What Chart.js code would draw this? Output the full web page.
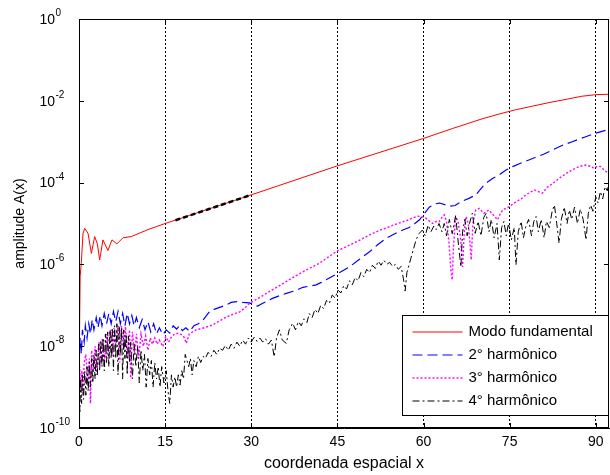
<!DOCTYPE html>
<html>
<head>
<meta charset="utf-8">
<script src="https://cdn.jsdelivr.net/npm/chart.js@4.4.0/dist/chart.umd.min.js"></script>
<style>
  html, body { margin: 0; padding: 0; background: #fff; }
</style>
</head>
<body>
<canvas id="ampChart" width="610" height="475"></canvas>
<script>
// points are [x, log10 A(x)]
const xTicks = [0, 15, 30, 45, 60, 75, 90]
const yTickExp = [-10, -8, -6, -4, -2, 0]

const fundamental = [
  [0, -10], [0.1, -7.6], [0.2, -6.3], [0.4, -5.97], [0.7, -5.24], [1.0, -5.12],
  [1.57, -5.24], [2.16, -5.73], [2.73, -5.32], [3.2, -5.5], [3.6, -5.89], [4.17, -5.4],
  [5.04, -5.66], [5.74, -5.4], [6.6, -5.5], [7.65, -5.35], [9.1, -5.32], [12, -5.15],
  [15, -5.0], [30, -4.3], [45, -3.59], [60, -2.92], [65, -2.68], [70, -2.45],
  [73, -2.33], [76, -2.22], [79, -2.13], [82, -2.04], [85, -1.96], [87.5, -1.89],
  [90, -1.85], [92.3, -1.84]
]

// thick black dashes laid over the fundamental between x~17 and x=30
const fitSegment = [[16.8, -4.92], [30, -4.3]]

const harm2 = [
  [0, -8.4], [0.2, -7.8], [0.4, -8.2], [0.6, -7.6], [0.9, -7.9], [1.1, -7.5], [1.4, -7.8],
  [1.7, -7.45], [2.0, -7.7], [2.3, -7.35], [2.6, -7.6], [3.0, -7.3], [3.3, -7.55], [3.7, -7.25],
  [4.0, -7.5], [4.4, -7.2], [4.8, -7.45], [5.2, -7.2], [5.6, -7.45], [6.0, -7.15], [6.4, -7.4],
  [6.8, -7.15], [7.2, -7.45], [7.6, -7.2], [8.0, -7.5], [8.4, -7.2], [8.8, -7.45], [9.2, -7.25],
  [9.6, -7.5], [10.0, -7.3], [10.5, -7.55], [11.0, -7.35], [11.5, -7.6], [12.0, -7.4], [12.5, -7.65],
  [13.0, -7.45], [13.5, -7.7], [14.0, -7.55], [14.6, -7.72], [15.2, -7.6], [15.8, -7.68], [16.4, -7.5],
  [17.0, -7.58], [17.5, -7.5], [18.0, -7.62], [18.6, -7.55], [19.3, -7.64], [20.0, -7.5], [20.8, -7.45],
  [21.6, -7.36], [22.7, -7.16], [23.5, -7.1], [24.5, -7.05], [25.5, -7.0], [26.5, -6.93], [27.4, -6.91],
  [28.5, -6.93], [29.7, -6.94], [30.5, -7.0], [31.1, -7.02], [32.0, -6.95], [33.0, -6.88], [33.7, -6.83],
  [35.0, -6.76], [36.1, -6.71], [37.5, -6.65], [39.0, -6.56], [40.2, -6.53], [41.3, -6.5], [42.2, -6.44],
  [43.0, -6.38], [44.0, -6.3], [45.1, -6.22], [47.1, -6.06], [48.8, -5.88], [50.6, -5.69], [52.0, -5.52],
  [53.5, -5.36], [55.0, -5.25], [56.4, -5.16], [57.5, -5.1], [58.5, -5.0], [59.3, -4.91], [60.2, -4.75],
  [61.0, -4.6], [62.0, -4.52], [62.8, -4.5], [63.9, -4.55], [64.5, -4.58], [65.5, -4.56], [66.5, -4.47],
  [68.0, -4.38], [69.1, -4.3], [70.3, -4.1], [71.0, -4.0], [72.0, -3.9], [73.2, -3.81], [74.3, -3.7],
  [75.5, -3.61], [77.0, -3.52], [79.0, -3.41], [81.0, -3.3], [82.5, -3.2], [84.0, -3.1], [85.9, -3.0],
  [88.0, -2.89], [90.0, -2.79], [92.3, -2.7]
]

const harm3 = [
  [0, -10], [0.1, -8.5], [0.3, -9.0], [0.5, -8.6], [0.7, -9.2], [0.9, -8.4], [1.2, -8.2], [1.5, -8.9],
  [1.8, -8.3], [2.0, -9.4], [2.2, -8.1], [2.5, -8.6], [2.8, -8.0], [3.1, -8.7], [3.5, -7.9], [3.8, -8.4],
  [4.1, -7.8], [4.4, -8.5], [4.8, -7.7], [5.1, -8.3], [5.5, -7.6], [5.8, -8.2], [6.1, -7.55], [6.4, -8.0],
  [6.8, -7.5], [7.1, -8.4], [7.4, -7.5], [7.8, -8.1], [8.1, -7.52], [8.5, -8.3], [8.8, -7.6], [9.0, -8.78],
  [9.3, -7.65], [9.7, -8.2], [10.0, -7.7], [10.4, -8.3], [10.8, -7.7], [11.2, -8.0], [11.6, -7.75],
  [12.0, -8.1], [12.4, -7.8], [12.8, -7.95], [13.2, -7.8], [13.6, -7.95], [14.0, -7.85], [14.6, -8.01],
  [15.1, -7.77], [15.6, -7.9], [16.2, -7.75], [16.8, -7.69], [17.5, -7.69], [18.2, -7.75], [18.7, -7.93],
  [19.2, -7.7], [20.4, -7.6], [21.8, -7.55], [23.3, -7.48], [24.5, -7.38], [25.6, -7.29], [26.8, -7.22],
  [28.0, -7.16], [29.0, -7.05], [29.7, -6.95], [31.0, -6.85], [32.6, -6.71], [34.4, -6.56], [36.1, -6.42],
  [37.5, -6.3], [39.0, -6.18], [40.5, -6.07], [41.9, -5.97], [43.6, -5.8], [45.1, -5.66], [47.1, -5.53],
  [49.0, -5.4], [50.6, -5.28], [52.3, -5.17], [54.0, -5.08], [55.5, -5.0], [57.0, -4.93], [58.0, -4.87],
  [59.0, -4.82], [59.8, -4.84], [60.4, -4.87], [61.0, -4.94], [61.6, -5.0], [62.2, -4.95], [62.7, -4.96],
  [63.2, -4.85], [63.6, -4.79], [64.0, -4.95], [64.4, -5.4], [64.8, -6.2], [65.0, -6.38], [65.2, -5.6],
  [65.6, -4.83], [66.0, -4.95], [66.4, -5.3], [66.8, -6.06], [67.1, -5.2], [67.4, -4.83], [67.8, -5.0],
  [68.1, -5.5], [68.3, -5.89], [68.6, -5.0], [69.1, -4.67], [69.7, -4.63], [70.5, -4.75], [71.4, -4.67],
  [72.2, -4.8], [72.9, -4.91], [73.4, -4.75], [73.8, -4.67], [74.9, -4.59], [76.1, -4.47], [77.0, -4.4],
  [77.8, -4.3], [79.3, -4.18], [80.0, -4.22], [80.7, -4.26], [81.5, -4.12], [82.5, -4.02], [83.6, -3.9],
  [84.8, -3.78], [86.0, -3.68], [87.1, -3.61], [88.2, -3.57], [89.0, -3.6], [89.7, -3.65], [90.3, -3.6],
  [90.9, -3.61], [91.5, -3.7], [92.3, -3.78]
]

const harm4 = [
  [0, -9.1], [0.15, -9.6], [0.3, -8.8], [0.45, -9.4], [0.6, -8.7], [0.8, -9.3], [1.0, -8.6], [1.2, -9.2],
  [1.4, -8.5], [1.6, -9.1], [1.8, -8.4], [2.0, -9.0], [2.2, -8.3], [2.4, -8.9], [2.6, -8.2], [2.8, -8.8],
  [3.0, -8.1], [3.2, -8.7], [3.4, -7.95], [3.6, -8.6], [3.8, -7.85], [4.0, -8.5], [4.2, -7.8], [4.4, -8.6],
  [4.6, -7.7], [4.8, -8.4], [5.0, -7.65], [5.2, -8.5], [5.4, -7.6], [5.6, -8.3], [5.8, -7.55], [6.0, -8.6],
  [6.2, -7.5], [6.4, -8.3], [6.6, -7.45], [6.8, -8.7], [7.0, -7.5], [7.2, -8.2], [7.4, -7.55], [7.6, -8.8],
  [7.8, -7.6], [8.0, -8.3], [8.2, -7.7], [8.4, -8.7], [8.6, -7.75], [8.8, -8.4], [9.0, -7.9], [9.3, -8.8],
  [9.6, -7.95], [9.9, -8.5], [10.2, -8.0], [10.5, -8.9], [10.8, -8.1], [11.1, -8.6], [11.4, -8.2],
  [11.7, -9.0], [12.0, -8.3], [12.3, -8.7], [12.6, -8.35], [12.9, -9.0], [13.2, -8.4], [13.5, -8.8],
  [13.8, -8.5], [14.1, -9.0], [14.4, -8.5], [14.8, -8.9], [15.2, -8.6], [15.5, -9.1], [15.8, -9.4],
  [16.1, -8.7], [16.4, -9.0], [16.7, -8.75], [17.0, -9.0], [17.3, -8.7], [17.6, -8.95], [17.9, -8.6],
  [18.2, -8.8], [18.5, -8.2], [18.8, -8.35], [19.1, -8.5], [19.4, -8.3], [19.7, -8.7], [20.0, -8.35],
  [20.4, -8.5], [20.8, -8.25], [21.2, -8.4], [21.6, -8.25], [22.0, -8.3], [22.5, -8.15], [23.0, -8.25],
  [23.5, -8.1], [24.0, -8.2], [24.5, -8.05], [25.0, -8.1], [25.5, -7.98], [26.0, -8.1], [26.5, -7.95],
  [27.0, -8.05], [27.5, -7.9], [28.0, -8.0], [28.5, -7.85], [29.0, -7.95], [29.5, -7.8], [30.0, -7.9],
  [30.5, -7.78], [31.0, -7.88], [31.5, -7.8], [32.0, -7.9], [32.5, -7.82], [33.0, -7.95], [33.5, -7.85],
  [34.0, -8.26], [34.4, -7.8], [34.9, -7.6], [35.4, -7.85], [36.1, -7.93], [36.6, -7.6], [37.2, -7.44],
  [37.7, -7.6], [38.2, -7.4], [38.7, -7.5], [39.2, -7.33], [39.7, -7.42], [40.1, -7.2], [40.6, -7.3],
  [41.1, -7.1], [41.6, -7.2], [42.1, -7.0], [42.6, -7.08], [43.1, -6.88], [43.6, -6.95], [44.1, -6.75],
  [44.6, -6.82], [45.1, -6.63], [45.6, -6.7], [46.1, -6.52], [46.6, -6.6], [47.1, -6.4], [47.6, -6.5],
  [48.1, -6.32], [48.6, -6.4], [49.1, -6.2], [49.6, -6.3], [50.1, -6.12], [50.6, -6.2], [51.1, -6.02],
  [51.6, -6.1], [52.1, -5.92], [52.6, -6.02], [53.1, -5.9], [53.6, -6.0], [54.1, -5.95], [54.6, -6.05],
  [55.1, -6.0], [55.6, -6.12], [56.1, -6.05], [56.5, -6.35], [56.8, -6.65], [57.1, -6.2], [57.5, -6.0],
  [57.8, -5.85], [58.2, -5.65], [58.7, -5.4], [59.2, -5.25], [59.8, -5.16], [60.3, -5.3], [60.8, -5.04],
  [61.3, -5.2], [61.8, -5.06], [62.2, -5.15], [62.7, -5.0], [63.2, -5.2], [63.6, -5.0], [64.0, -5.3],
  [64.5, -4.9], [65.0, -5.25], [65.6, -4.8], [66.0, -5.4], [66.5, -6.06], [66.8, -5.2], [67.2, -4.9],
  [67.6, -5.3], [68.0, -5.0], [68.5, -4.75], [69.0, -5.24], [69.5, -4.95], [70.0, -5.3], [70.5, -4.85],
  [70.9, -4.75], [71.4, -5.2], [71.8, -4.9], [72.3, -5.35], [72.8, -5.0], [73.2, -5.89], [73.6, -5.1],
  [74.0, -4.95], [74.4, -5.3], [74.8, -5.0], [75.3, -5.4], [75.8, -5.1], [76.1, -6.01], [76.5, -5.2],
  [77.0, -4.95], [77.4, -5.35], [77.8, -5.08], [78.3, -4.9], [78.8, -5.3], [79.2, -4.95], [79.6, -4.83],
  [80.0, -5.2], [80.5, -4.9], [81.0, -5.35], [81.4, -4.95], [81.9, -5.1], [82.4, -4.7], [82.8, -4.55],
  [83.2, -5.0], [83.6, -5.48], [84.0, -4.9], [84.5, -4.6], [85.0, -5.0], [85.4, -4.67], [85.8, -4.9],
  [86.3, -4.6], [86.8, -5.0], [87.3, -4.65], [87.8, -4.9], [88.3, -5.4], [88.7, -4.75], [89.1, -4.55],
  [89.5, -4.7], [90.0, -4.35], [90.4, -4.5], [90.8, -4.22], [91.2, -4.4], [91.6, -4.1], [92.0, -4.2],
  [92.3, -4.0]
]

const toXY = (pts) => pts.map(([x, e]) => ({ x: x, y: Math.pow(10, e) }))

const FONT = '"Liberation Sans", Arial, Helvetica, sans-serif'

// box, inner ticks, 10^n labels and the legend, drawn over the plot like matlab does
const framePlugin = {
  id: 'frame',
  afterDraw(chart) {
    const { ctx, chartArea: a, scales } = chart
    ctx.save()
    ctx.strokeStyle = '#000'
    ctx.lineWidth = 1
    ctx.setLineDash([])
    ctx.strokeRect(a.left + 0.5, a.top + 0.5, a.right - a.left - 1, a.bottom - a.top - 1)

    ctx.beginPath()
    scales.x.ticks.forEach((t) => {
      const px = Math.round(scales.x.getPixelForValue(t.value)) + 0.5
      ctx.moveTo(px, a.bottom); ctx.lineTo(px, a.bottom - 5)
      ctx.moveTo(px, a.top); ctx.lineTo(px, a.top + 5)
    })
    scales.y.ticks.forEach((t) => {
      const py = Math.round(scales.y.getPixelForValue(t.value)) + 0.5
      ctx.moveTo(a.left, py); ctx.lineTo(a.left + 5, py)
      ctx.moveTo(a.right, py); ctx.lineTo(a.right - 5, py)
    })
    ctx.stroke()

    // y labels as 10 with a raised exponent
    ctx.fillStyle = '#000'
    scales.y.ticks.forEach((t) => {
      const py = scales.y.getPixelForValue(t.value)
      const e = String(Math.round(Math.log10(t.value)))
      ctx.font = '14px ' + FONT
      ctx.textAlign = 'right'
      ctx.textBaseline = 'middle'
      ctx.fillText('10', 55, py + 1)
      ctx.font = '10px ' + FONT
      ctx.textAlign = 'left'
      ctx.textBaseline = 'alphabetic'
      ctx.fillText(e, 55.5, py - 3)
    })

    // legend
    const bw = 206, bh = 100
    const bx = Math.round(a.right - 1 - bw) + 0.5
    const by = Math.round(a.bottom - 13 - bh) + 0.5
    ctx.fillStyle = '#fff'
    ctx.fillRect(bx, by, bw, bh)
    ctx.strokeRect(bx, by, bw, bh)
    ctx.font = '15px ' + FONT
    ctx.textBaseline = 'middle'
    ctx.textAlign = 'left'
    let row = 0
    chart.data.datasets.forEach((ds) => {
      if (!ds.label) return
      const ry = Math.round(by + 16 + row * 23)
      ctx.strokeStyle = ds.borderColor
      ctx.lineWidth = ds.borderWidth
      ctx.setLineDash(ds.borderDash || [])
      ctx.beginPath()
      ctx.moveTo(bx + 10, ry)
      ctx.lineTo(bx + 60, ry)
      ctx.stroke()
      ctx.fillStyle = '#000'
      ctx.fillText(ds.label, bx + 66, ry)
      row++
    })
    ctx.restore()
  }
}

new Chart(document.getElementById('ampChart'), {
  type: 'line',
  data: {
    datasets: [
      { label: '', data: toXY(fitSegment), borderColor: '#000', borderWidth: 2.5, borderDash: [5, 3], order: 0 },
      { label: 'Modo fundamental', data: toXY(fundamental), borderColor: '#ff0000', borderWidth: 1, order: 4 },
      { label: '2\u00B0 harm\u00F4nico', data: toXY(harm2), borderColor: '#0000ff', borderWidth: 1.2, borderDash: [10, 5], order: 3 },
      { label: '3\u00B0 harm\u00F4nico', data: toXY(harm3), borderColor: '#ff00ff', borderWidth: 1.4, borderDash: [2, 2], order: 2 },
      { label: '4\u00B0 harm\u00F4nico', data: toXY(harm4), borderColor: '#000000', borderWidth: 1, borderDash: [7, 3, 2, 3], order: 1 },
    ],
  },
  options: {
    responsive: false,
    animation: false,
    events: [],
    layout: { padding: { top: 19, right: 1, left: 0, bottom: 0 } },
    elements: { point: { radius: 0 }, line: { tension: 0 } },
    plugins: { legend: { display: false }, tooltip: { enabled: false } },
    scales: {
      x: {
        type: 'linear',
        min: 0,
        max: 92.3,
        afterBuildTicks: (scale) => { scale.ticks = xTicks.map((v) => ({ value: v })) },
        afterFit: (scale) => { scale.height = 47 },
        grid: {
          drawTicks: false,
          color: (c) => (c.tick && c.tick.value === 0 ? 'rgba(0,0,0,0)' : '#000'),
          lineWidth: 1,
        },
        border: { display: true, color: '#000', dash: [2, 2] },
        ticks: { color: '#000', padding: 6, maxRotation: 0, font: { family: FONT, size: 14 } },
        title: { display: true, text: 'coordenada espacial x', color: '#000', padding: { top: 0, bottom: 2 }, font: { family: FONT, size: 16 } },
      },
      y: {
        type: 'logarithmic',
        min: 1e-10,
        max: 1,
        afterBuildTicks: (scale) => { scale.ticks = yTickExp.map((e) => ({ value: Math.pow(10, e) })) },
        afterFit: (scale) => { scale.width = 79 },
        grid: { display: false, drawTicks: false },
        border: { display: true, color: '#000' },
        ticks: { display: false },
        title: { display: true, text: 'amplitude A(x)', color: '#000', padding: { top: 12, bottom: 0 }, font: { family: FONT, size: 14 } },
      },
    },
  },
  plugins: [framePlugin],
})
</script>
</body>
</html>
